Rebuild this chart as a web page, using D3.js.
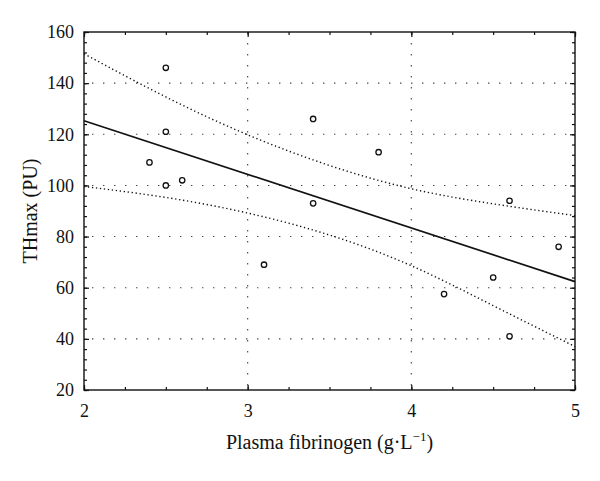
<!DOCTYPE html>
<html>
<head>
<meta charset="utf-8">
<style>
    body { margin: 0; padding: 0; background: #fff; }
    svg text { font-family: 'Liberation Serif', 'DejaVu Serif', serif; fill: #111; }
</style>
</head>
<body>
<div id="chart"></div>
<script src="https://d3js.org/d3.v7.min.js"></script>
<script>
    // measured points
    const fibrinogen = [2.4, 2.5, 2.5, 2.5, 2.6, 3.1, 3.4, 3.4, 3.8, 4.2, 4.5, 4.6, 4.6, 4.9];
    const thmax = [109, 146, 121, 100, 102, 69, 126, 93, 113, 57.5, 64, 94, 41, 76];

    // fitted line and confidence band
    const fitX = [2, 5];
    const fitY = [125.3, 62.4];
    const bandX = [2, 2.5, 3, 3.5, 4, 4.5, 5];
    const bandUpper = [151.5, 134.6, 119.8, 107.8, 98.7, 92.8, 88.2];
    const bandLower = [99.6, 95.3, 89.2, 80.6, 68.6, 53.0, 37.0];

    const xTicks = [2, 3, 4, 5];
    const yTicks = [20, 40, 60, 80, 100, 120, 140, 160];

    const width = 600, height = 481;
    const margin = { top: 32, right: 25, bottom: 91, left: 84 };
    const iw = width - margin.left - margin.right;
    const ih = height - margin.top - margin.bottom;

    const svg = d3.select("#chart").append("svg")
        .attr("width", width)
        .attr("height", height);

    const g = svg.append("g").attr("transform", `translate(${margin.left},${margin.top})`);

    const x = d3.scaleLinear().domain([2, 5]).range([0, iw]);
    const y = d3.scaleLinear().domain([20, 160]).range([ih, 0]);

    // dotted grid
    g.selectAll(".gx").data(xTicks.slice(1, -1)).enter().append("line")
        .attr("x1", d => x(d)).attr("x2", d => x(d))
        .attr("y1", 0).attr("y2", ih)
        .attr("stroke", "#444").attr("stroke-width", 1.1)
        .attr("stroke-dasharray", "1.4,9.6");
    g.selectAll(".gy").data(yTicks.slice(1, -1)).enter().append("line")
        .attr("x1", 0).attr("x2", iw)
        .attr("y1", d => y(d)).attr("y2", d => y(d))
        .attr("stroke", "#444").attr("stroke-width", 1.1)
        .attr("stroke-dasharray", "1.4,9.6")
        .attr("stroke-dashoffset", -8);

    // ticks on all four sides, pointing in
    const xMinor = d3.range(2, 5.001, 0.25);
    const yMinor = d3.range(20, 160.001, 4);

    const bottomAxis = d3.axisBottom(x).tickValues(xTicks).tickSize(-5).tickPadding(14).tickFormat(d3.format("d"));
    const leftAxis = d3.axisLeft(y).tickValues(yTicks).tickSize(-5).tickPadding(10).tickFormat(d3.format("d"));

    g.append("g").attr("transform", `translate(0,${ih})`)
        .call(d3.axisBottom(x).tickValues(xMinor).tickSize(-3).tickFormat(""))
        .call(a => a.select(".domain").remove());
    g.append("g")
        .call(d3.axisTop(x).tickValues(xMinor).tickSize(-3).tickFormat(""))
        .call(a => a.select(".domain").remove());
    g.append("g")
        .call(d3.axisLeft(y).tickValues(yMinor).tickSize(-3).tickFormat(""))
        .call(a => a.select(".domain").remove());
    g.append("g").attr("transform", `translate(${iw},0)`)
        .call(d3.axisRight(y).tickValues(yMinor).tickSize(-3).tickFormat(""))
        .call(a => a.select(".domain").remove());
    g.append("g")
        .call(d3.axisTop(x).tickValues(xTicks).tickSize(-5).tickFormat(""))
        .call(a => a.select(".domain").remove());
    g.append("g").attr("transform", `translate(${iw},0)`)
        .call(d3.axisRight(y).tickValues(yTicks).tickSize(-5).tickFormat(""))
        .call(a => a.select(".domain").remove());

    const bx = g.append("g").attr("transform", `translate(0,${ih})`).call(bottomAxis);
    bx.select(".domain").remove();
    bx.selectAll("text").attr("font-size", 18).attr("fill", "#111");
    const ly = g.append("g").call(leftAxis);
    ly.select(".domain").remove();
    ly.selectAll("text").attr("font-size", 18).attr("fill", "#111");

    g.selectAll(".tick line").attr("stroke", "#111").attr("stroke-width", 1.2);

    // confidence band
    const band = d3.line().x(d => x(d[0])).y(d => y(d[1])).curve(d3.curveNatural);
    [bandUpper, bandLower].forEach(vals => {
        g.append("path")
            .datum(bandX.map((v, i) => [v, vals[i]]))
            .attr("d", band)
            .attr("fill", "none")
            .attr("stroke", "#111")
            .attr("stroke-width", 1.4)
            .attr("stroke-dasharray", "1.3,2.7");
    });

    // regression line
    g.append("path")
        .datum(fitX.map((v, i) => [v, fitY[i]]))
        .attr("d", d3.line().x(d => x(d[0])).y(d => y(d[1])))
        .attr("fill", "none")
        .attr("stroke", "#111")
        .attr("stroke-width", 1.7);

    // points
    g.selectAll("circle").data(fibrinogen).enter().append("circle")
        .attr("cx", d => x(d))
        .attr("cy", (d, i) => y(thmax[i]))
        .attr("r", 2.7)
        .attr("fill", "#fff")
        .attr("stroke", "#111")
        .attr("stroke-width", 1.3);

    // frame
    g.append("rect")
        .attr("width", iw).attr("height", ih)
        .attr("fill", "none")
        .attr("stroke", "#111")
        .attr("stroke-width", 1.4);

    // axis titles
    const xt = svg.append("text")
        .attr("x", margin.left + iw / 2)
        .attr("y", 449)
        .attr("text-anchor", "middle")
        .attr("font-size", 20);
    xt.append("tspan").text("Plasma fibrinogen (g\u00b7L");
    xt.append("tspan").attr("font-size", 13).attr("dy", -8).text("\u22121");
    xt.append("tspan").attr("dy", 8).text(")");

    svg.append("text")
        .attr("transform", `translate(37,${margin.top + ih / 2}) rotate(-90)`)
        .attr("text-anchor", "middle")
        .attr("font-size", 20)
        .text("THmax (PU)");
</script>
</body>
</html>
